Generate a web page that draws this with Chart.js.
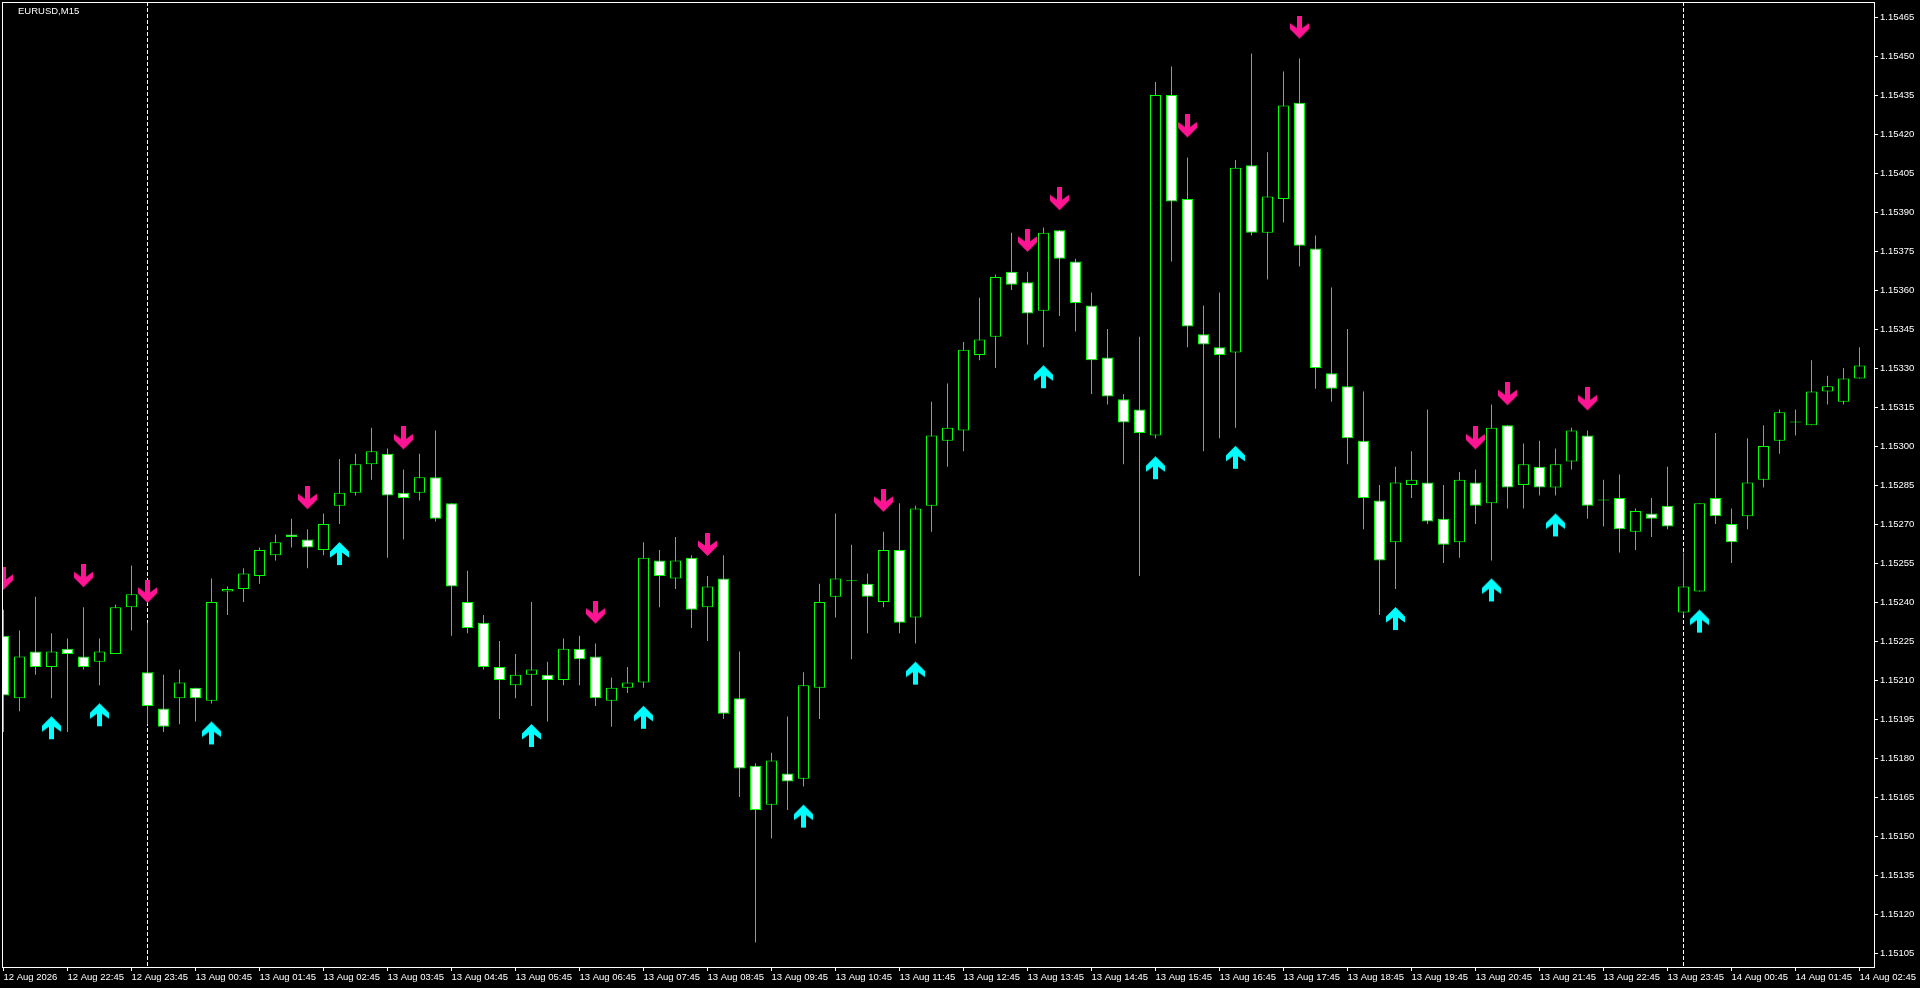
<!DOCTYPE html>
<html>
<head>
<meta charset="utf-8">
<title>EURUSD,M15</title>
<script src="https://cdn.jsdelivr.net/npm/chart.js@4.4.1/dist/chart.umd.min.js"></script>
<style>
  html, body { margin: 0; padding: 0; background: #000; overflow: hidden; }
  canvas { display: block; }
</style>
</head>
<body>
<canvas id="chart" width="1920" height="988"></canvas>
<script>
// EURUSD M15 bars, 12 Aug 21:45 .. 14 Aug 02:45
const symbolLabel = 'EURUSD,M15';

const openPrices = [
  1.15227, 1.15203, 1.15221, 1.15215, 1.15222, 1.15219, 1.15217, 1.15220, 1.15238, 1.15213,
  1.15199, 1.15203, 1.15207, 1.15202, 1.15244, 1.15245, 1.15250, 1.15258, 1.15266, 1.15264,
  1.15260, 1.15277, 1.15282, 1.15293, 1.15297, 1.15282, 1.15282, 1.15288, 1.15278, 1.15240,
  1.15232, 1.15215, 1.15208, 1.15212, 1.15212, 1.15210, 1.15222, 1.15219, 1.15202, 1.15207,
  1.15209, 1.15256, 1.15249, 1.15257, 1.15238, 1.15249, 1.15203, 1.15177, 1.15162, 1.15174,
  1.15172, 1.15207, 1.15242, 1.15248, 1.15247, 1.15240, 1.15260, 1.15234, 1.15277, 1.15302,
  1.15306, 1.15335, 1.15342, 1.15367, 1.15363, 1.15352, 1.15383, 1.15371, 1.15354, 1.15334,
  1.15318, 1.15314, 1.15304, 1.15435, 1.15395, 1.15343, 1.15338, 1.15336, 1.15408, 1.15382,
  1.15395, 1.15432, 1.15376, 1.15328, 1.15323, 1.15302, 1.15279, 1.15263, 1.15285, 1.15286,
  1.15272, 1.15263, 1.15286, 1.15278, 1.15308, 1.15285, 1.15292, 1.15284, 1.15294, 1.15304,
  1.15279, 1.15280, 1.15267, 1.15274, 1.15277, 1.15236, 1.15244, 1.15280, 1.15270, 1.15273,
  1.15287, 1.15302, 1.15309, 1.15308, 1.15321, 1.15317, 1.15326
];
const highPrices = [
  1.15237, 1.15229, 1.15242, 1.15228, 1.15226, 1.15238, 1.15226, 1.15239, 1.15254, 1.15232,
  1.15212, 1.15214, 1.15207, 1.15249, 1.15246, 1.15253, 1.15261, 1.15266, 1.15272, 1.15268,
  1.15274, 1.15295, 1.15297, 1.15307, 1.15299, 1.15291, 1.15297, 1.15306, 1.15278, 1.15252,
  1.15235, 1.15225, 1.15220, 1.15240, 1.15217, 1.15226, 1.15227, 1.15224, 1.15211, 1.15215,
  1.15263, 1.15260, 1.15265, 1.15258, 1.15250, 1.15258, 1.15221, 1.15178, 1.15182, 1.15196,
  1.15213, 1.15247, 1.15274, 1.15262, 1.15251, 1.15267, 1.15278, 1.15277, 1.15317, 1.15324,
  1.15340, 1.15357, 1.15366, 1.15382, 1.15367, 1.15384, 1.15383, 1.15372, 1.15359, 1.15345,
  1.15320, 1.15342, 1.15440, 1.15446, 1.15411, 1.15354, 1.15359, 1.15410, 1.15451, 1.15413,
  1.15444, 1.15449, 1.15381, 1.15361, 1.15345, 1.15321, 1.15285, 1.15292, 1.15298, 1.15314,
  1.15285, 1.15290, 1.15291, 1.15316, 1.15308, 1.15301, 1.15302, 1.15299, 1.15307, 1.15306,
  1.15287, 1.15289, 1.15276, 1.15280, 1.15292, 1.15259, 1.15278, 1.15305, 1.15276, 1.15303,
  1.15308, 1.15314, 1.15314, 1.15333, 1.15327, 1.15330, 1.15338
];
const lowPrices = [
  1.15190, 1.15198, 1.15212, 1.15203, 1.15190, 1.15214, 1.15208, 1.15220, 1.15229, 1.15193,
  1.15190, 1.15193, 1.15194, 1.15201, 1.15235, 1.15240, 1.15247, 1.15256, 1.15261, 1.15253,
  1.15258, 1.15270, 1.15281, 1.15287, 1.15257, 1.15264, 1.15279, 1.15271, 1.15227, 1.15228,
  1.15214, 1.15195, 1.15203, 1.15200, 1.15194, 1.15208, 1.15208, 1.15200, 1.15192, 1.15205,
  1.15207, 1.15238, 1.15245, 1.15230, 1.15225, 1.15195, 1.15165, 1.15109, 1.15149, 1.15160,
  1.15169, 1.15195, 1.15234, 1.15218, 1.15228, 1.15238, 1.15228, 1.15224, 1.15267, 1.15292,
  1.15298, 1.15333, 1.15330, 1.15360, 1.15339, 1.15338, 1.15350, 1.15344, 1.15320, 1.15316,
  1.15293, 1.15250, 1.15303, 1.15371, 1.15338, 1.15298, 1.15303, 1.15307, 1.15381, 1.15364,
  1.15386, 1.15369, 1.15322, 1.15317, 1.15293, 1.15268, 1.15235, 1.15245, 1.15280, 1.15270,
  1.15255, 1.15257, 1.15270, 1.15256, 1.15276, 1.15276, 1.15281, 1.15281, 1.15291, 1.15272,
  1.15269, 1.15259, 1.15260, 1.15265, 1.15268, 1.15235, 1.15244, 1.15270, 1.15255, 1.15268,
  1.15284, 1.15297, 1.15304, 1.15308, 1.15316, 1.15316, 1.15326
];
const closePrices = [
  1.15204, 1.15219, 1.15215, 1.15221, 1.15220, 1.15215, 1.15221, 1.15238, 1.15243, 1.15200,
  1.15192, 1.15209, 1.15203, 1.15240, 1.15245, 1.15251, 1.15260, 1.15263, 1.15265, 1.15261,
  1.15270, 1.15282, 1.15293, 1.15298, 1.15281, 1.15280, 1.15288, 1.15272, 1.15246, 1.15230,
  1.15215, 1.15210, 1.15212, 1.15214, 1.15210, 1.15222, 1.15218, 1.15203, 1.15207, 1.15209,
  1.15257, 1.15250, 1.15256, 1.15237, 1.15246, 1.15197, 1.15176, 1.15160, 1.15179, 1.15171,
  1.15208, 1.15240, 1.15249, 1.15248, 1.15242, 1.15260, 1.15232, 1.15276, 1.15304, 1.15307,
  1.15337, 1.15341, 1.15365, 1.15362, 1.15351, 1.15382, 1.15372, 1.15355, 1.15333, 1.15319,
  1.15309, 1.15305, 1.15435, 1.15394, 1.15346, 1.15339, 1.15335, 1.15407, 1.15382, 1.15396,
  1.15431, 1.15377, 1.15330, 1.15322, 1.15303, 1.15280, 1.15256, 1.15286, 1.15287, 1.15271,
  1.15262, 1.15287, 1.15277, 1.15307, 1.15284, 1.15293, 1.15284, 1.15293, 1.15306, 1.15277,
  1.15279, 1.15268, 1.15275, 1.15272, 1.15269, 1.15246, 1.15278, 1.15273, 1.15263, 1.15286,
  1.15300, 1.15313, 1.15309, 1.15321, 1.15323, 1.15326, 1.15331
];

// one time label every 4 bars (hourly)
const timeLabels = [
  '12 Aug 2026', '12 Aug 22:45', '12 Aug 23:45',
  '13 Aug 00:45', '13 Aug 01:45', '13 Aug 02:45', '13 Aug 03:45', '13 Aug 04:45', '13 Aug 05:45',
  '13 Aug 06:45', '13 Aug 07:45', '13 Aug 08:45', '13 Aug 09:45', '13 Aug 10:45', '13 Aug 11:45',
  '13 Aug 12:45', '13 Aug 13:45', '13 Aug 14:45', '13 Aug 15:45', '13 Aug 16:45', '13 Aug 17:45',
  '13 Aug 18:45', '13 Aug 19:45', '13 Aug 20:45', '13 Aug 21:45', '13 Aug 22:45', '13 Aug 23:45',
  '14 Aug 00:45', '14 Aug 01:45', '14 Aug 02:45'
];
const priceTicks = [
  1.15105, 1.15120, 1.15135, 1.15150, 1.15165, 1.15180, 1.15195, 1.15210, 1.15225,
  1.15240, 1.15255, 1.15270, 1.15285, 1.15300, 1.15315, 1.15330, 1.15345, 1.15360,
  1.15375, 1.15390, 1.15405, 1.15420, 1.15435, 1.15450, 1.15465
];

// indicator arrows (bar index)
const sellSignals = [0, 5, 9, 19, 25, 37, 44, 55, 64, 66, 74, 81, 92, 94, 99];
const buySignals = [3, 6, 13, 21, 33, 40, 50, 57, 65, 72, 77, 87, 93, 97, 106];
const daySeparators = [9, 105];

const fontFamily = "'Liberation Sans', sans-serif";
const axisFont = { family: fontFamily, size: 9.5 };

// arrow sprite; the point sits in the middle, the arrow is drawn above or below it
function makeArrow(color, up) {
  const c = document.createElement('canvas');
  c.width = 19;
  c.height = 86;
  const g = c.getContext('2d');
  const shape = [[9.5, 0], [19, 9.5], [19, 15.5], [12, 10.5], [12, 23], [7, 23], [7, 10.5], [0, 15.5], [0, 9.5]];
  g.fillStyle = color;
  g.beginPath();
  shape.forEach(([x, y], k) => {
    const yy = up ? 61 + y : 23 - y;
    if (k === 0) g.moveTo(x, yy);
    else g.lineTo(x, yy);
  });
  g.closePath();
  g.fill();
  return c;
}

const bars = openPrices.map((o, i) => i);
const bodyData = bars.map((i) => ({ x: i, y: [openPrices[i], closePrices[i]] }));
const wickData = bars.map((i) => ({ x: i, y: [lowPrices[i], highPrices[i]] }));
const bodyColors = bars.map((i) => (closePrices[i] >= openPrices[i] ? '#000000' : '#ffffff'));

const mt4Frame = {
  id: 'mt4Frame',
  beforeDatasetsDraw(chart) {
    const { ctx, chartArea: a, scales } = chart;
    ctx.save();
    ctx.strokeStyle = '#ffffff';
    ctx.lineWidth = 1;
    ctx.setLineDash([4, 2]);
    daySeparators.forEach((i) => {
      const px = Math.floor(scales.x.getPixelForValue(i)) + 0.5;
      ctx.beginPath();
      ctx.moveTo(px, a.top);
      ctx.lineTo(px, a.bottom);
      ctx.stroke();
    });
    ctx.restore();
  },
  afterDraw(chart) {
    const { ctx, chartArea: a } = chart;
    ctx.save();
    ctx.strokeStyle = '#ffffff';
    ctx.lineWidth = 1;
    ctx.strokeRect(a.left + 0.5, a.top + 0.5, a.right - a.left, a.bottom - a.top);
    ctx.fillStyle = '#ffffff';
    ctx.font = '9.5px ' + fontFamily;
    ctx.textBaseline = 'middle';
    ctx.fillText(symbolLabel, 18, 11);
    ctx.restore();
  },
};

// keep the plot box fixed, like the terminal window
function fixPadding(scale) {
  scale.paddingTop = 0;
  scale.paddingBottom = 0;
  scale.paddingLeft = 0;
  scale.paddingRight = 0;
}

const ctx = document.getElementById('chart').getContext('2d');

new Chart(ctx, {
  type: 'bar',
  data: {
    datasets: [
      {
        type: 'line',
        label: 'sell',
        data: sellSignals.map((i) => ({ x: i, y: highPrices[i] })),
        showLine: false,
        pointStyle: makeArrow('#ff1493', false),
        order: 0,
      },
      {
        type: 'line',
        label: 'buy',
        data: buySignals.map((i) => ({ x: i, y: lowPrices[i] })),
        showLine: false,
        pointStyle: makeArrow('#00ffff', true),
        order: 0,
      },
      {
        label: 'body',
        data: bodyData,
        backgroundColor: bodyColors,
        borderColor: '#00ff00',
        borderWidth: 1,
        borderSkipped: false,
        barThickness: 11,
        minBarLength: 1,
        inflateAmount: 0,
        grouped: false,
        order: 1,
      },
      {
        label: 'wick',
        data: wickData,
        backgroundColor: '#00ff00',
        borderWidth: 0,
        barThickness: 1,
        inflateAmount: 0,
        grouped: false,
        order: 2,
      },
    ],
  },
  options: {
    responsive: false,
    devicePixelRatio: 1,
    animation: false,
    events: [],
    layout: { autoPadding: false, padding: { left: 2, top: 2, right: 0, bottom: 0 } },
    plugins: {
      legend: { display: false },
      tooltip: { enabled: false },
    },
    scales: {
      x: {
        type: 'linear',
        min: -0.09375,
        max: 116.90625,
        offset: false,
        afterBuildTicks: (scale) => {
          scale.ticks = timeLabels.map((t, k) => ({ value: k * 4 }));
        },
        afterFit: (scale) => {
          scale.height = 21;
          fixPadding(scale);
        },
        ticks: {
          autoSkip: false,
          maxRotation: 0,
          align: 'start',
          padding: 1,
          color: '#ffffff',
          font: axisFont,
          callback: (value, index) => timeLabels[index],
        },
        grid: {
          offset: false,
          drawOnChartArea: false,
          drawTicks: true,
          tickLength: 4,
          color: '#ffffff',
          tickColor: '#ffffff',
        },
        border: { display: false },
      },
      y: {
        type: 'linear',
        position: 'right',
        min: 1.1509962,
        max: 1.1547077,
        afterBuildTicks: (scale) => {
          scale.ticks = priceTicks.map((v) => ({ value: v }));
        },
        afterFit: (scale) => {
          scale.width = 46;
          fixPadding(scale);
        },
        ticks: {
          autoSkip: false,
          padding: 2,
          color: '#ffffff',
          font: axisFont,
          callback: (value) => value.toFixed(5),
        },
        grid: {
          drawOnChartArea: false,
          drawTicks: true,
          tickLength: 4,
          color: '#ffffff',
          tickColor: '#ffffff',
        },
        border: { display: false },
      },
    },
  },
  plugins: [mt4Frame],
});
</script>
</body>
</html>
